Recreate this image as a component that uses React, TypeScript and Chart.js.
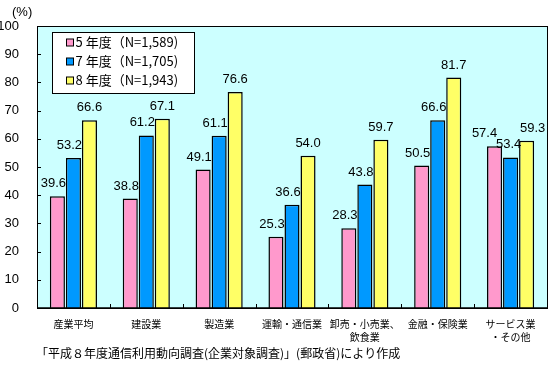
import React, { useEffect, useRef } from "react";
import { Chart, registerables } from "chart.js";
Chart.register(...registerables);

const categories: string[][] = [
  ["産業平均"],
  ["建設業"],
  ["製造業"],
  ["運輸・通信業"],
  ["卸売・小売業、", "飲食業"],
  ["金融・保険業"],
  ["サービス業", "・その他"],
];
const seriesNames = ["5 年度（N=1,589)", "7 年度（N=1,705)", "8 年度（N=1,943)"];
const fy5 = [39.6, 38.8, 49.1, 25.3, 28.3, 50.5, 57.4];
const fy7 = [53.2, 61.2, 61.1, 36.6, 43.8, 66.6, 53.4];
const fy8 = [66.6, 67.1, 76.6, 54.0, 59.7, 81.7, 59.3];
const yMin = 0;
const yMax = 100;
const yStep = 10;
const unitLabel = "(%)";
const sourceNote = "「平成８年度通信利用動向調査(企業対象調査)」(郵政省)により作成";

const colors = ["#FF99CC", "#0099FF", "#FFFF66"];
// horizontal nudges of value labels (styling only), per series and category
const labelShift = [
  [-4, -4, -4, -4, -4, -4, -10],
  [-4, -4, -4, -4, -4, -4, -2],
  [0, 0, 0, 0, 0, 0, 6],
];
const NUM_FONT = "'Liberation Sans', Arial, sans-serif";
const CJK_FONT = "'Noto Sans CJK JP', sans-serif";

const framePlugin = {
  id: "frame",
  beforeDatasetsDraw(chart: any) {
    const { ctx, chartArea: a } = chart;
    ctx.save();
    ctx.fillStyle = "#CCFFFF";
    ctx.fillRect(a.left, a.top, a.right - a.left, a.bottom - a.top);
    ctx.strokeStyle = "#000";
    ctx.lineWidth = 1;
    const ys = chart.scales.y;
    ctx.beginPath();
    for (let v = yMin + yStep; v < yMax; v += yStep) {
      const y = Math.round(ys.getPixelForValue(v)) + 0.5;
      ctx.moveTo(a.left, y);
      ctx.lineTo(a.left + 4, y);
    }
    const n = categories.length;
    const w = (a.right - a.left) / n;
    for (let i = 1; i < n; i++) {
      const x = Math.round(a.left + w * i) + 0.5;
      ctx.moveTo(x, a.bottom);
      ctx.lineTo(x, a.bottom - 4);
    }
    ctx.stroke();
    ctx.restore();
  },
  afterDatasetsDraw(chart: any) {
    const { ctx, chartArea: a } = chart;
    ctx.save();
    ctx.strokeStyle = "#000";
    ctx.lineWidth = 1;
    ctx.strokeRect(Math.round(a.left) + 0.5, Math.round(a.top) + 0.5, Math.round(a.right - a.left), Math.round(a.bottom - a.top));
    ctx.beginPath();
    ctx.lineWidth = 1.5;
    ctx.moveTo(a.left, a.bottom);
    ctx.lineTo(a.right, a.bottom);
    ctx.stroke();

    // value labels
    ctx.fillStyle = "#000";
    ctx.font = `13px ${NUM_FONT}`;
    ctx.textAlign = "center";
    ctx.textBaseline = "bottom";
    chart.data.datasets.forEach((ds: any, di: number) => {
      const meta = chart.getDatasetMeta(di);
      meta.data.forEach((el: any, i: number) => {
        ctx.fillText(Number(ds.data[i]).toFixed(1), el.x + labelShift[di][i], el.y - 6);
      });
    });

    // legend
    const bx = Math.round(a.left + 15) + 0.5;
    const by = Math.round(a.top + 6) + 0.5;
    const bw = 142;
    const bh = 61;
    ctx.fillStyle = "#fff";
    ctx.fillRect(bx, by, bw, bh);
    ctx.strokeStyle = "#000";
    ctx.lineWidth = 1;
    ctx.strokeRect(bx, by, bw, bh);
    ctx.textAlign = "left";
    ctx.textBaseline = "middle";
    ctx.font = `13px ${CJK_FONT}`;
    seriesNames.forEach((name, i) => {
      const cy = by + 10 + 19 * i;
      ctx.fillStyle = colors[i];
      ctx.fillRect(bx + 14, Math.round(cy - 4), 7, 7);
      ctx.strokeRect(bx + 14, Math.round(cy - 4), 7, 7);
      ctx.fillStyle = "#000";
      ctx.fillText(name, bx + 23, cy);
    });

    // unit and source
    ctx.font = `13px ${NUM_FONT}`;
    ctx.textAlign = "left";
    ctx.fillText(unitLabel, 12, 12);
    ctx.font = `12px ${CJK_FONT}`;
    ctx.fillText(sourceNote, 36, 353);
    ctx.restore();
  },
};

export default function App() {
  const ref = useRef<HTMLCanvasElement | null>(null);
  useEffect(() => {
    if (!ref.current) return;
    const chart = new Chart(ref.current, {
      type: "bar",
      data: {
        labels: categories,
        datasets: [fy5, fy7, fy8].map((d, i) => ({
          label: seriesNames[i],
          data: d,
          backgroundColor: colors[i],
          borderColor: "#000",
          borderWidth: 1.5,
          categoryPercentage: 0.66,
          barPercentage: 0.94,
        })),
      },
      options: {
        responsive: false,
        animation: false,
        devicePixelRatio: 1,
        layout: { padding: { left: 0, top: 26, right: 5, bottom: 0 } },
        plugins: { legend: { display: false }, tooltip: { enabled: false } },
        scales: {
          x: {
            grid: { display: false },
            border: { display: false },
            ticks: {
              color: "#000",
              font: { size: 10, family: CJK_FONT, lineHeight: 1.25 },
              padding: 2,
              maxRotation: 0,
              autoSkip: false,
            },
            afterFit(s: any) {
              s.height = 59;
            },
          },
          y: {
            min: yMin,
            max: yMax,
            grid: { display: false },
            border: { display: false },
            ticks: {
              stepSize: yStep,
              color: "#000",
              font: { size: 13, family: NUM_FONT },
              padding: 10,
            },
            afterFit(s: any) {
              s.width = 37;
            },
          },
        },
      },
      plugins: [framePlugin],
    });
    return () => chart.destroy();
  }, []);
  return (
    <div style={{ position: "fixed", left: 0, top: 0, width: 552, height: 367, background: "#fff" }}>
      <canvas ref={ref} width={552} height={367} style={{ display: "block" }} />
    </div>
  );
}
